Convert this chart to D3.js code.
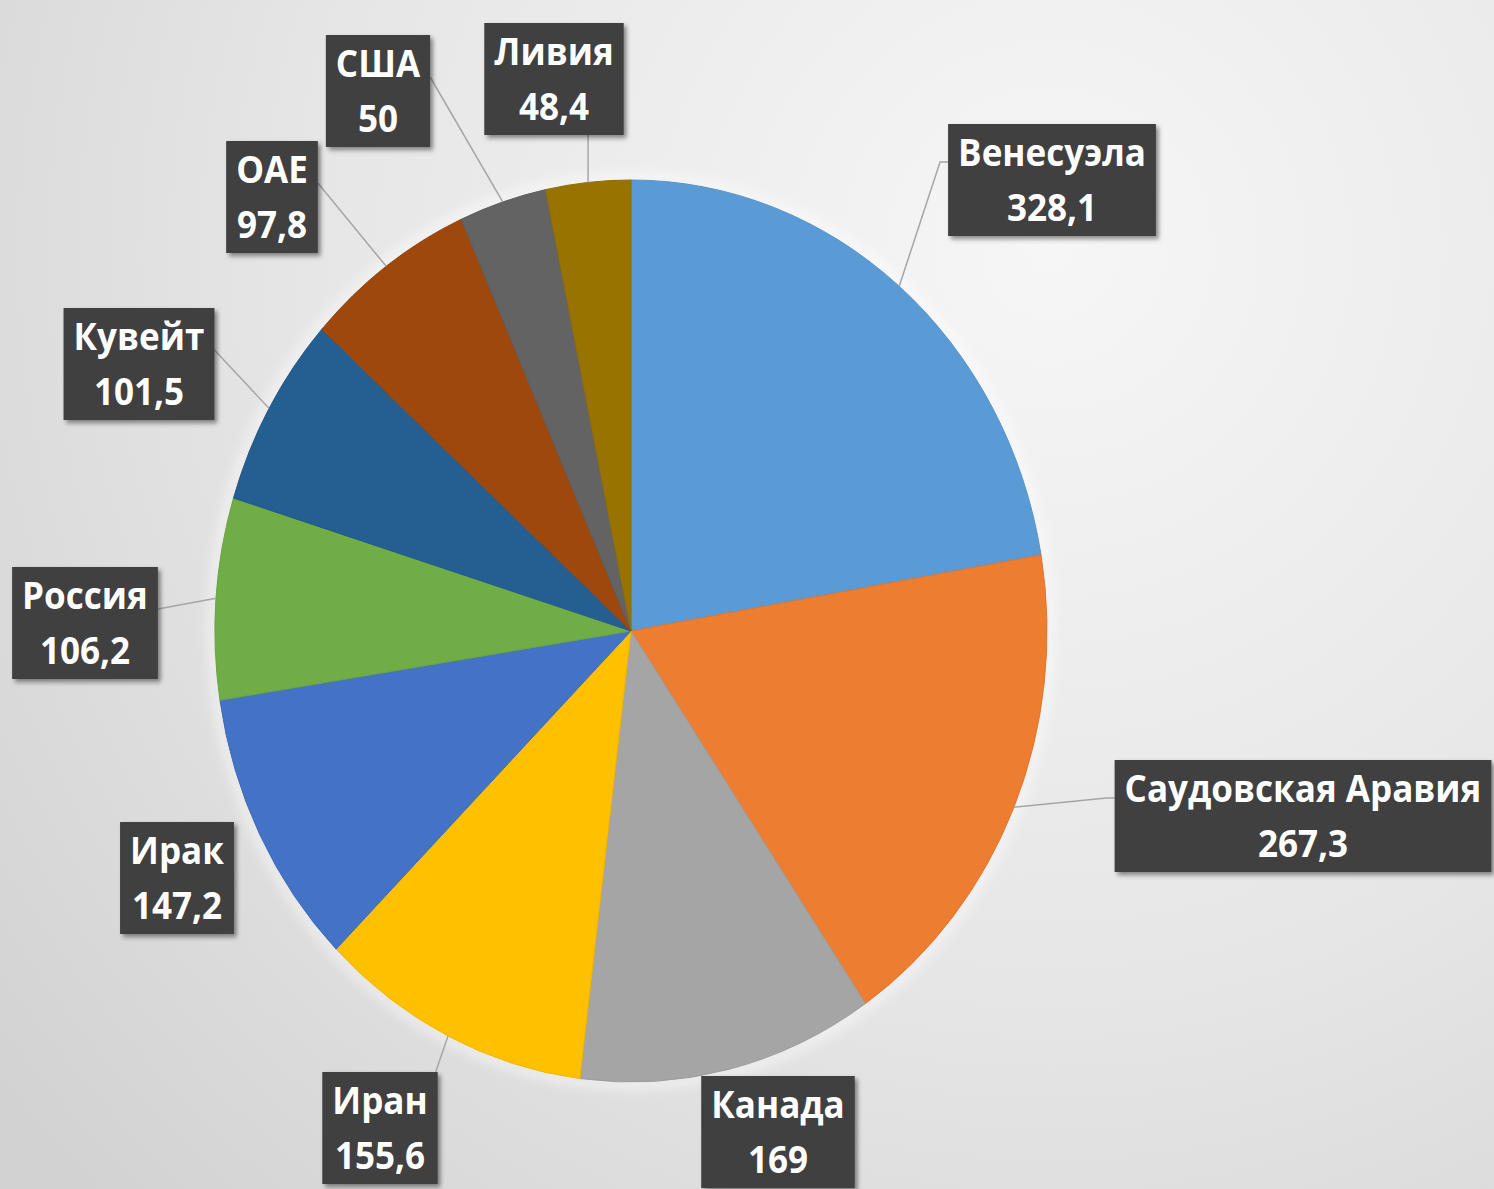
<!DOCTYPE html>
<html>
<head>
<meta charset="utf-8">
<script src="https://cdn.jsdelivr.net/npm/d3@7"></script>
<style>
  body { margin: 0; overflow: hidden; }
  svg { display: block; }
</style>
</head>
<body>
<script>
// Oil reserves by country (billion barrels)
var countries = ["Венесуэла", "Саудовская Аравия", "Канада", "Иран", "Ирак",
  "Россия", "Кувейт", "ОАЕ", "США", "Ливия"];
var reserves = [328.1, 267.3, 169, 155.6, 147.2, 106.2, 101.5, 97.8, 50, 48.4];
var sliceColors = ["#5b9bd5", "#ed7d31", "#a5a5a5", "#ffc000", "#4472c4",
  "#70ad47", "#255e91", "#9e480e", "#636363", "#997300"];

// label box centres (screen px) and which side the leader line joins
var labelLayout = [
  { x: 1052, y: 180, side: "left" },
  { x: 1303, y: 816, side: "left" },
  { x: 778, y: 1132, side: null },
  { x: 380, y: 1128, side: "top" },
  { x: 177, y: 878, side: null },
  { x: 85, y: 623, side: "right" },
  { x: 139, y: 364, side: "right" },
  { x: 272, y: 197, side: "right" },
  { x: 378, y: 91, side: "right" },
  { x: 554, y: 79, side: "bottom" }
];

var svgWidth = 1494;
var svgHeight = 1189;

// pie is stretched a bit vertically in the picture
var cx = 631, cy = 631;
var ry = 451, rx = 416;
var sx = rx / ry;

var svg = d3.select("body")
  .append("svg")
  .attr("width", svgWidth)
  .attr("height", svgHeight);

var defs = svg.append("defs");

var bg = defs.append("radialGradient")
  .attr("id", "bg")
  .attr("gradientUnits", "userSpaceOnUse")
  .attr("cx", 1050).attr("cy", 250).attr("r", 1350);
bg.append("stop").attr("offset", "0%").attr("stop-color", "#f6f6f6");
bg.append("stop").attr("offset", "55%").attr("stop-color", "#e6e6e6");
bg.append("stop").attr("offset", "100%").attr("stop-color", "#d2d2d2");

var shadow = defs.append("filter").attr("id", "shadow")
  .attr("x", "-20%").attr("y", "-20%").attr("width", "140%").attr("height", "140%");
shadow.append("feDropShadow")
  .attr("dx", 3).attr("dy", 3).attr("stdDeviation", 2.5)
  .attr("flood-color", "#000").attr("flood-opacity", 0.45);

var glow = defs.append("filter").attr("id", "glow")
  .attr("x", "-10%").attr("y", "-10%").attr("width", "120%").attr("height", "120%");
glow.append("feGaussianBlur").attr("stdDeviation", 6);

svg.append("rect")
  .attr("width", svgWidth)
  .attr("height", svgHeight)
  .attr("fill", "url(#bg)");

var pie = d3.pie().sort(null).value(d => d);
var arcs = pie(reserves);

var arc = d3.arc().innerRadius(0).outerRadius(ry);

// soft light halo round the pie
svg.append("ellipse")
  .attr("cx", cx).attr("cy", cy)
  .attr("rx", rx + 3).attr("ry", ry + 3)
  .attr("fill", "none")
  .attr("stroke", "#ffffff")
  .attr("stroke-width", 6)
  .attr("opacity", 0.8)
  .attr("filter", "url(#glow)");

var pieGroup = svg.append("g")
  .attr("transform", `translate(${cx}, ${cy}) scale(${sx}, 1)`);

pieGroup.selectAll(".slice")
  .data(arcs)
  .enter()
  .append("path")
  .classed("slice", true)
  .attr("d", arc)
  .attr("fill", (d, i) => sliceColors[i])
  .attr("stroke", (d, i) => d3.color(sliceColors[i]).darker(0.15))
  .attr("stroke-width", 1)
  .attr("vector-effect", "non-scaling-stroke");

// point on the pie edge at a given angle
function edgePoint(a) {
  return [cx + Math.sin(a) * rx, cy - Math.cos(a) * ry];
}

var fontSize = 38;
var lineGap = 55;
var boxH = 112;
var pad = 10;

var fmt = v => String(v).replace(".", ",");

var leaderGroup = svg.append("g");
var labelGroup = svg.append("g");

arcs.forEach(function(d, i) {
  var lay = labelLayout[i];

  var g = labelGroup.append("g")
    .attr("transform", `translate(${lay.x}, ${lay.y}) scale(${sx}, 1)`);

  var rect = g.append("rect")
    .attr("fill", "#404040")
    .attr("filter", "url(#shadow)");

  var lines = [countries[i], fmt(reserves[i])];
  var maxW = 0;
  lines.forEach(function(t, k) {
    var txt = g.append("text")
      .attr("x", 0)
      .attr("y", (k === 0 ? -lineGap / 2 : lineGap / 2) + fontSize * 0.36)
      .attr("text-anchor", "middle")
      .attr("fill", "#ffffff")
      .style("font-family", "'Open Sans', sans-serif")
      .style("font-weight", 700)
      .style("font-size", fontSize + "px")
      .text(t);
    maxW = Math.max(maxW, txt.node().getComputedTextLength());
  });

  var w = maxW + 2 * pad / sx;
  rect.attr("x", -w / 2).attr("y", -boxH / 2)
    .attr("width", w).attr("height", boxH);

  if (!lay.side) return;

  var wScreen = w * sx;
  var mid = (d.startAngle + d.endAngle) / 2;
  var p0 = edgePoint(mid);
  var pts = [p0];
  if (lay.side === "left") {
    var ay = lay.y - boxH / 2 + 38;
    pts.push([lay.x - wScreen / 2 - 8, ay], [lay.x - wScreen / 2, ay]);
  } else if (lay.side === "right") {
    var ay2 = lay.y - boxH / 2 + 42;
    pts.push([lay.x + wScreen / 2, ay2]);
  } else if (lay.side === "bottom") {
    pts.push([p0[0], lay.y + boxH / 2]);
  } else if (lay.side === "top") {
    pts.push([lay.x + wScreen / 2 - 2, lay.y - boxH / 2]);
  }

  leaderGroup.append("path")
    .attr("d", d3.line()(pts))
    .attr("fill", "none")
    .attr("stroke", "#a6a6a6")
    .attr("stroke-width", 1.5);
});
</script>
</body>
</html>
